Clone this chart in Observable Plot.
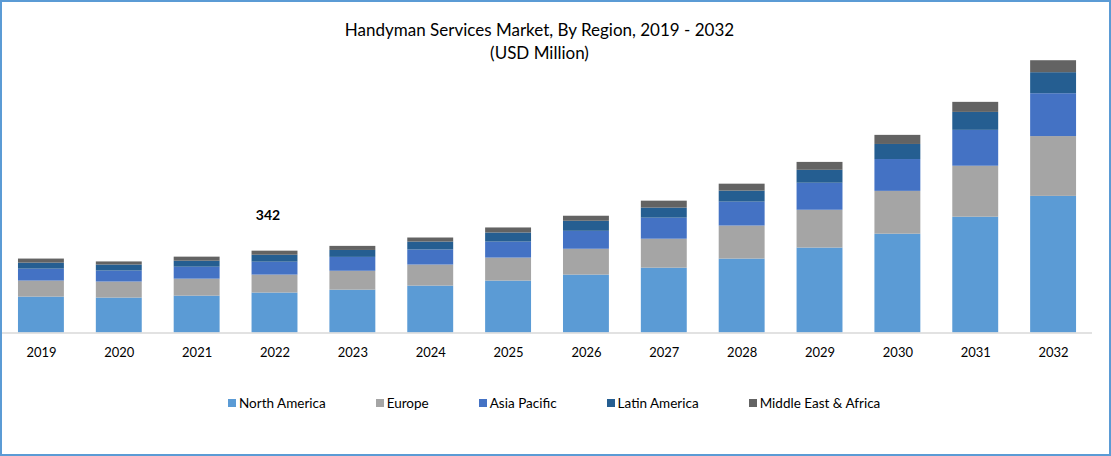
<!DOCTYPE html>
<html>
<head>
<meta charset="utf-8">
<script src="https://cdn.jsdelivr.net/npm/d3@7"></script>
<script src="https://cdn.jsdelivr.net/npm/@observablehq/plot@0.6"></script>
<style>
  html, body { margin: 0; padding: 0; background: #fff; }
  #frame { position: relative; width: 1111px; height: 456px; box-sizing: border-box; border: 2px solid #5b9bd5; background: #fff; overflow: hidden; font-family: Lato, "Open Sans", sans-serif; }
  #title { position: absolute; left: -2px; top: 16px; width: 1079px; text-align: center; font-size: 17px; line-height: 23px; color: #000; }
  #chart { position: absolute; left: -2px; top: 48px; }
  #legend { position: absolute; left: 0; width: 1111px; top: 393px; display: flex; justify-content: flex-start; gap: 50px; font-size: 13.5px; color: #000; padding-left: 226px; box-sizing: border-box; }
  .item { display: flex; align-items: center; gap: 3px; white-space: nowrap; }
  .sw { width: 8px; height: 8px; display: inline-block; }
</style>
</head>
<body>
<div id="frame">
  <div id="title">Handyman Services Market, By Region, 2019 - 2032<br>(USD Million)</div>
  <div id="chart"></div>
  <div id="legend"></div>
</div>
<script>
const years = ["2019","2020","2021","2022","2023","2024","2025","2026","2027","2028","2029","2030","2031","2032"];
const regions = ["North America","Europe","Asia Pacific","Latin America","Middle East & Africa"];
const colors = ["#5b9bd5","#a5a5a5","#4472c4","#255e91","#636363"];
const northAmerica = [150,146,154,167,179,196,217,242,271,309,355,413,484,571];
const europe       = [ 67, 67, 71, 75, 79, 88, 96,108,121,138,158,179,213,250];
const asiaPacific  = [ 50, 46, 50, 54, 58, 63, 67, 75, 88,100,113,133,150,179];
const latinAmerica = [ 25, 25, 25, 29, 29, 33, 38, 42, 42, 46, 54, 63, 75, 88];
const mea          = [ 17, 13, 17, 17, 17, 17, 21, 21, 29, 29, 33, 38, 42, 50];
const labelYears = ["2022"];
const labelValues = [342];

const series = [northAmerica, europe, asiaPacific, latinAmerica, mea];
const data = years.flatMap((yr, i) => regions.map((r, j) => ({year: yr, region: r, value: series[j][i]})));
const labels = labelYears.map((yr, i) => ({year: yr, value: labelValues[i]}));

const chart = Plot.plot({
  width: 1111,
  height: 320,
  marginLeft: 2,
  marginRight: 17,
  marginTop: 10,
  marginBottom: 37,
  style: {fontFamily: "Lato, 'Open Sans', sans-serif", fontSize: "13px", color: "#000", background: "transparent"},
  x: {domain: years, paddingInner: 0.41, paddingOuter: 0.205, label: null, tickSize: 0, tickPadding: 15},
  y: {domain: [0, 1139], axis: null},
  color: {domain: regions, range: colors},
  marks: [
    Plot.barY(data, {x: "year", y: "value", fill: "region", order: regions}),
    Plot.ruleY([0], {stroke: "#d9d9d9", strokeWidth: 1.5}),
    Plot.text(labels, {x: "year", y: "value", text: d => String(d.value), dy: -36, dx: -7, fontWeight: "bold", fontSize: 14, fill: "#000"})
  ]
});
document.getElementById("chart").appendChild(chart);

const legend = document.getElementById("legend");
regions.forEach((r, i) => {
  const item = document.createElement("div");
  item.className = "item";
  const sw = document.createElement("span");
  sw.className = "sw";
  sw.style.background = colors[i];
  const t = document.createElement("span");
  t.textContent = r;
  item.appendChild(sw);
  item.appendChild(t);
  legend.appendChild(item);
});
</script>
</body>
</html>
